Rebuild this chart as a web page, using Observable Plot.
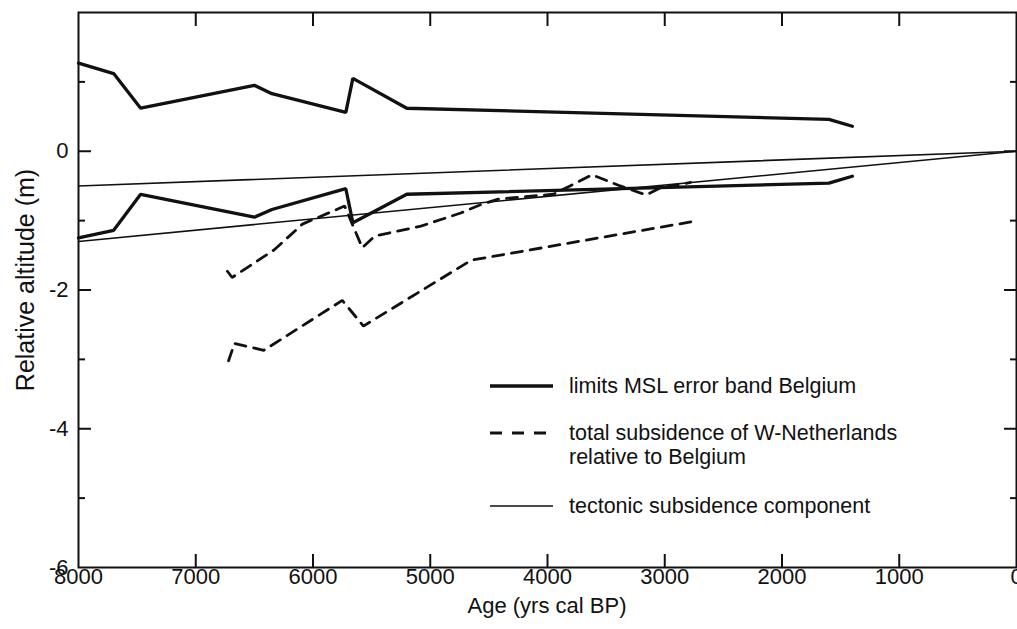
<!DOCTYPE html>
<html>
<head>
<meta charset="utf-8">
<script src="https://cdn.jsdelivr.net/npm/d3@7"></script>
<script src="https://cdn.jsdelivr.net/npm/@observablehq/plot@0.6"></script>
<style>
  body { margin: 0; background: #fff; }
  #wrap { position: relative; width: 1017px; height: 629px; font-family: "Liberation Sans", Arial, Helvetica, sans-serif; color: #111; overflow: hidden; }
  .abs { position: absolute; white-space: nowrap; }
  .ytitle { left: 25px; top: 280px; font-size: 25px; transform: translate(-50%, -50%) rotate(-90deg); }
  .xtitle { left: 547px; top: 606px; font-size: 22px; transform: translate(-50%, -50%); }
  .leg { font-size: 21.5px; line-height: 24px; }
</style>
</head>
<body>
<div id="wrap"></div>
<script>
// ---- data ----
const xTicks = [8000, 7000, 6000, 5000, 4000, 3000, 2000, 1000, 0];
const xInnerTicks = [7000, 6000, 5000, 4000, 3000, 2000, 1000];
const yMajorTicks = [0, -2, -4];
const yLabelTicks = [0, -2, -4, -6];
const yMinorTicks = [1, -1, -3, -5];

// limits of MSL error band Belgium
const mslAge   = [8000, 7700, 7470, 6500, 6350, 5720, 5660, 5200, 1600, 1400];
const mslUpper = [1.27, 1.12, 0.62, 0.95, 0.83, 0.56, 1.05, 0.62, 0.46, 0.36];
const mslLower = [-1.25, -1.14, -0.62, -0.95, -0.84, -0.54, -1.03, -0.62, -0.46, -0.36];

// total subsidence of W-Netherlands relative to Belgium (two curves)
const subUpperAge = [6730, 6690, 6330, 6090, 5730, 5580, 5470, 5080, 4740, 4570, 4420, 3950, 3620, 3380, 3160, 3040, 2780];
const subUpperVal = [-1.73, -1.82, -1.42, -1.05, -0.79, -1.39, -1.22, -1.08, -0.89, -0.77, -0.69, -0.62, -0.34, -0.50, -0.63, -0.53, -0.45];
const subLowerAge = [6720, 6670, 6420, 5750, 5570, 4650, 2750];
const subLowerVal = [-3.02, -2.77, -2.87, -2.15, -2.52, -1.57, -1.01];

// tectonic subsidence component (two lines)
const tectAge  = [8000, 0];
const tectHigh = [-0.5, 0];
const tectLow  = [-1.3, 0];

const legendLabels = [
  "limits MSL error band Belgium",
  "total subsidence of W-Netherlands<br>relative to Belgium",
  "tectonic subsidence component"
];

// ---- build tables ----
const toRows = (xs, ys) => xs.map((x, i) => ({age: x, v: ys[i]}));
const mslU = toRows(mslAge, mslUpper);
const mslL = toRows(mslAge, mslLower);
const subU = toRows(subUpperAge, subUpperVal);
const subL = toRows(subLowerAge, subLowerVal);
const tH = toRows(tectAge, tectHigh);
const tL = toRows(tectAge, tectLow);

const ink = "#111";
const TICK = 13, MINOR = 7;

const chart = Plot.plot({
  width: 1017,
  height: 629,
  marginLeft: 78,
  marginRight: 1,
  marginTop: 12,
  marginBottom: 62,
  x: {domain: [8000, 0]},
  y: {domain: [-6, 2]},
  style: {fontFamily: '"Liberation Sans", Arial, Helvetica, sans-serif', fontSize: "22px", color: ink, background: "white", overflow: "visible"},
  marks: [
    // tick labels
    Plot.axisX({anchor: "bottom", ticks: xTicks, tickSize: 0, tickPadding: 1, tickFormat: d => String(d), label: null, fontSize: 22}),
    Plot.axisY({anchor: "left", ticks: yLabelTicks, tickSize: 0, tickPadding: 10, tickFormat: d => String(d), label: null, fontSize: 22}),
    // inward ticks
    Plot.axisX({anchor: "bottom", ticks: xInnerTicks, tickSize: TICK, dy: -TICK, tickFormat: () => "", label: null, strokeWidth: 2}),
    Plot.axisX({anchor: "top", ticks: xInnerTicks, tickSize: TICK, dy: TICK, tickFormat: () => "", label: null, strokeWidth: 2}),
    Plot.axisY({anchor: "left", ticks: yMajorTicks, tickSize: TICK, dx: TICK, tickFormat: () => "", label: null, strokeWidth: 2}),
    Plot.axisY({anchor: "left", ticks: yMinorTicks, tickSize: MINOR, dx: MINOR, tickFormat: () => "", label: null, strokeWidth: 2}),
    Plot.axisY({anchor: "right", ticks: yMajorTicks, tickSize: TICK, dx: -TICK, tickFormat: () => "", label: null, strokeWidth: 2}),
    Plot.axisY({anchor: "right", ticks: yMinorTicks, tickSize: MINOR, dx: -MINOR, tickFormat: () => "", label: null, strokeWidth: 2}),
    // data
    Plot.line(tH, {x: "age", y: "v", stroke: ink, strokeWidth: 1.6}),
    Plot.line(tL, {x: "age", y: "v", stroke: ink, strokeWidth: 1.6}),
    Plot.line(subU, {x: "age", y: "v", stroke: ink, strokeWidth: 2.8, strokeDasharray: "11,8", strokeLinejoin: "miter"}),
    Plot.line(subL, {x: "age", y: "v", stroke: ink, strokeWidth: 2.8, strokeDasharray: "11,8", strokeLinejoin: "miter"}),
    Plot.line(mslU, {x: "age", y: "v", stroke: ink, strokeWidth: 3.3, strokeLinejoin: "miter"}),
    Plot.line(mslL, {x: "age", y: "v", stroke: ink, strokeWidth: 3.3, strokeLinejoin: "miter"}),
    Plot.frame({stroke: ink, strokeWidth: 2})
  ]
});

const wrap = document.getElementById("wrap");
wrap.appendChild(chart);

// axis titles
const yt = document.createElement("div");
yt.className = "abs ytitle"; yt.textContent = "Relative altitude (m)";
wrap.appendChild(yt);
const xt = document.createElement("div");
xt.className = "abs xtitle"; xt.textContent = "Age (yrs cal BP)";
wrap.appendChild(xt);

// legend
const legendRows = [
  {y: 386, w: 3.3, dash: null, len: 63},
  {y: 433, w: 2.8, dash: "12,10", len: 58},
  {y: 506, w: 1.6, dash: null, len: 63}
];
legendRows.forEach((r, i) => {
  const s = document.createElementNS("http://www.w3.org/2000/svg", "svg");
  s.setAttribute("width", 70); s.setAttribute("height", 10);
  s.style.position = "absolute"; s.style.left = "490px"; s.style.top = (r.y - 5) + "px";
  const l = document.createElementNS("http://www.w3.org/2000/svg", "line");
  l.setAttribute("x1", 0); l.setAttribute("x2", r.len);
  l.setAttribute("y1", 5); l.setAttribute("y2", 5);
  l.setAttribute("stroke", ink); l.setAttribute("stroke-width", r.w);
  if (r.dash) l.setAttribute("stroke-dasharray", r.dash);
  s.appendChild(l);
  wrap.appendChild(s);
  const t = document.createElement("div");
  t.className = "abs leg";
  t.style.left = "569px"; t.style.top = (r.y - 12) + "px";
  t.innerHTML = legendLabels[i];
  wrap.appendChild(t);
});
</script>
</body>
</html>
